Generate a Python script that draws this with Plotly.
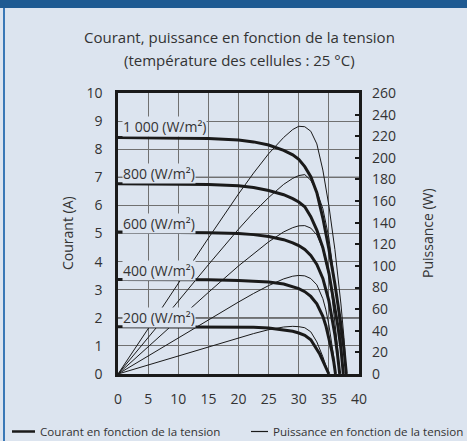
import plotly.graph_objects as go

W, H = 467, 441
ML, MR, MT, MB = 118, 108, 93, 67

# ---- data ----
irradiance_labels = ["1 000 (W/m²)", "800 (W/m²)", "600 (W/m²)", "400 (W/m²)", "200 (W/m²)"]
label_current_pos = [8.8, 7.12, 5.37, 3.70, 2.0]

volt_1000 = [0, 5, 10, 15, 20, 22.5, 25, 27.5, 29, 30, 31, 32, 33, 34, 35, 36, 37, 37.5, 37.9]
curr_1000 = [8.42, 8.41, 8.40, 8.38, 8.33, 8.26, 8.15, 7.96, 7.80, 7.64, 7.38, 7.02, 6.45, 5.55, 4.45, 3.20, 1.75, 0.90, 0]
pow_1000 = [0, 42, 84, 125.7, 166.6, 185.9, 203.8, 218.9, 226.2, 229.2, 228.8, 224.6, 212.9, 188.7, 155.8, 115.2, 64.8, 33.8, 0]

volt_800 = [0, 5, 10, 15, 20, 22.5, 25, 27.5, 29, 30, 31, 32, 33, 34, 35, 36, 36.5, 37, 37.4]
curr_800 = [6.77, 6.76, 6.75, 6.74, 6.70, 6.64, 6.53, 6.38, 6.24, 6.12, 5.95, 5.60, 5.12, 4.50, 3.60, 2.40, 1.70, 0.90, 0]
pow_800 = [0, 33.8, 67.5, 101.1, 134, 149.4, 163.3, 175.5, 181, 183.6, 184.5, 179.2, 169, 153, 126, 86.4, 62, 33.3, 0]

volt_600 = [0, 5, 10, 15, 20, 22.5, 25, 27.5, 29, 30, 31, 32, 33, 34, 35, 35.5, 36, 36.4, 36.8]
curr_600 = [5.05, 5.05, 5.04, 5.03, 5.00, 4.96, 4.89, 4.78, 4.67, 4.57, 4.43, 4.22, 3.90, 3.40, 2.60, 2.05, 1.40, 0.75, 0]
pow_600 = [0, 25.3, 50.4, 75.5, 100, 111.6, 122.3, 131.5, 135.4, 137.1, 137.3, 135, 128.7, 115.6, 91, 72.8, 50.4, 27.3, 0]

volt_400 = [0, 5, 10, 15, 20, 22.5, 25, 27.5, 29, 30, 31, 32, 33, 34, 34.5, 35, 35.5, 35.8, 36.1]
curr_400 = [3.36, 3.36, 3.35, 3.35, 3.33, 3.31, 3.27, 3.20, 3.12, 3.04, 2.93, 2.76, 2.50, 2.05, 1.72, 1.30, 0.80, 0.45, 0]
pow_400 = [0, 16.8, 33.5, 50.3, 66.6, 74.5, 81.8, 88, 90.5, 91.2, 90.8, 88.3, 82.5, 69.7, 59.3, 45.5, 28.4, 16.1, 0]

volt_200 = [0, 5, 10, 15, 20, 22.5, 25, 27.5, 29, 30, 31, 32, 33, 33.5, 34, 34.5, 35]
curr_200 = [1.68, 1.68, 1.68, 1.67, 1.67, 1.66, 1.64, 1.58, 1.52, 1.46, 1.38, 1.22, 0.90, 0.70, 0.47, 0.22, 0]
pow_200 = [0, 8.4, 16.8, 25.1, 33.4, 37.4, 41, 43.5, 44.1, 43.8, 42.8, 39, 29.7, 23.5, 16, 7.6, 0]

x_ticks = [0, 5, 10, 15, 20, 25, 30, 35, 40]
y_ticks = list(range(0, 11))
y2_ticks = list(range(0, 261, 20))

series = [
    (volt_1000, curr_1000, pow_1000),
    (volt_800, curr_800, pow_800),
    (volt_600, curr_600, pow_600),
    (volt_400, curr_400, pow_400),
    (volt_200, curr_200, pow_200),
]

BG = "#DCE4EF"
INK = "#1a1a1a"
TXT = "#333333"
FONT = "Open Sans"
PW = W - ML - MR
PH = H - MT - MB


def px(x):
    return (x - ML) / PW


def py(y):
    return (H - MB - y) / PH


fig = go.Figure()
for v, i, p in series:
    fig.add_trace(go.Scatter(x=v, y=p, yaxis="y2", mode="lines",
                             line=dict(color=INK, width=1), hoverinfo="skip",
                             showlegend=False))
for v, i, p in series:
    fig.add_trace(go.Scatter(x=v, y=i, yaxis="y", mode="lines",
                             line=dict(color=INK, width=3), hoverinfo="skip",
                             showlegend=False))

shapes = []
# header band and left rule
shapes.append(dict(type="rect", xref="paper", yref="paper", x0=px(0), x1=px(W),
                   y0=py(0), y1=py(8), fillcolor="#1E5A92", line=dict(width=0), layer="below"))
shapes.append(dict(type="rect", xref="paper", yref="paper", x0=px(3), x1=px(5),
                   y0=py(8), y1=py(H), fillcolor="#3A78B6", line=dict(width=0), layer="below"))
# darker leader lines at 7 A and 2 A
for yv in [7, 2]:
    shapes.append(dict(type="line", xref="x", yref="y", x0=0, x1=40, y0=yv, y1=yv,
                       line=dict(color="#111111", width=1.3), layer="below"))
# legend samples
shapes.append(dict(type="line", xref="paper", yref="paper", x0=px(12), x1=px(35),
                   y0=py(431.5), y1=py(431.5), line=dict(color=INK, width=2.5)))
shapes.append(dict(type="line", xref="paper", yref="paper", x0=px(251), x1=px(268),
                   y0=py(431.5), y1=py(431.5), line=dict(color=INK, width=1.2)))

annotations = []


def ann(x, y, text, size, xanchor="center", angle=0):
    annotations.append(dict(xref="paper", yref="paper", x=px(x), y=py(y), text=text,
                            xanchor=xanchor, yanchor="middle", textangle=angle,
                            showarrow=False, font=dict(family=FONT, size=size, color=TXT)))


ann(239, 37, "Courant, puissance en fonction de la tension", 15)
ann(239, 60, "(température des cellules : 25 °C)", 15)
ann(67, 233, "Courant (A)", 14, angle=-90)
ann(427, 233, "Puissance (W)", 14, angle=-90)
ann(38, 431.5, "Courant en fonction de la tension", 11.6, xanchor="left")
ann(271, 431.5, "Puissance en fonction de la tension", 11.6, xanchor="left")

for lab, yv in zip(irradiance_labels, label_current_pos):
    annotations.append(dict(xref="x", yref="y", x=0.6, y=yv, text=lab, xanchor="left",
                            yanchor="middle", showarrow=False, bgcolor=BG, borderpad=0,
                            font=dict(family=FONT, size=14, color=TXT)))

fig.update_layout(
    width=W, height=H,
    margin=dict(l=ML, r=MR, t=MT, b=MB),
    paper_bgcolor=BG, plot_bgcolor=BG,
    font=dict(family=FONT, size=14, color=TXT),
    showlegend=False,
    shapes=shapes, annotations=annotations,
    xaxis=dict(range=[0, 40], tickvals=x_ticks, showgrid=True, gridcolor="#707070",
               gridwidth=1.4, zeroline=False, showline=True, linecolor=INK, linewidth=2.5,
               mirror=True, ticks="", ticklabelstandoff=10,
               tickfont=dict(family=FONT, size=14, color=TXT)),
    yaxis=dict(range=[0, 10], tickvals=y_ticks, showgrid=True, gridcolor="#707070",
               gridwidth=1.4, zeroline=False, showline=True, linecolor=INK, linewidth=2.5,
               mirror=True, ticks="", ticklabelstandoff=10,
               tickfont=dict(family=FONT, size=14, color=TXT)),
    yaxis2=dict(range=[0, 260], tickvals=y2_ticks, overlaying="y", side="right",
                showgrid=False, zeroline=False, showline=False, ticks="inside",
                ticklen=4, tickwidth=1.5, tickcolor=INK, ticklabelstandoff=12,
                tickfont=dict(family=FONT, size=14, color=TXT)),
)

fig.write_html("out.html", config={"displayModeBar": False},
               post_script="document.body.style.margin='0';document.body.style.overflow='hidden';")
